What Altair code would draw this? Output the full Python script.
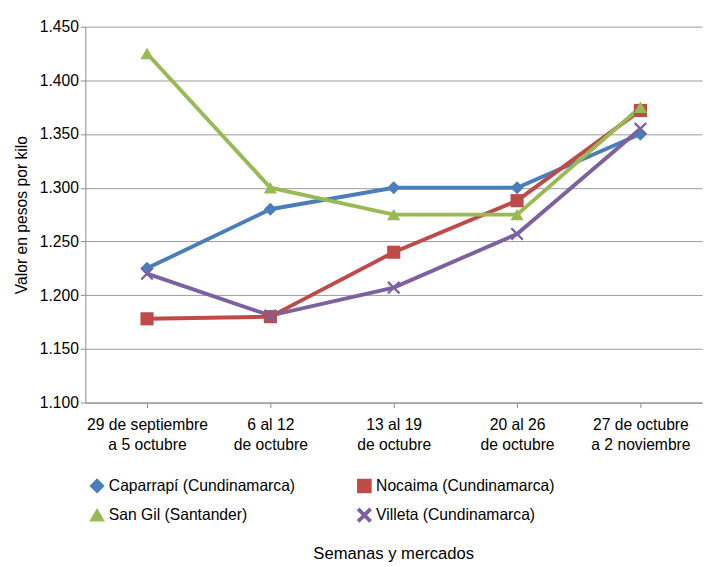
import altair as alt
import pandas as pd

weeks = ["29 de septiembre|a 5 octubre", "6 al 12|de octubre", "13 al 19|de octubre", "20 al 26|de octubre", "27 de octubre|a 2 noviembre"]
series = ["Caparrapí (Cundinamarca)", "Nocaima (Cundinamarca)", "San Gil (Santander)", "Villeta (Cundinamarca)"]
caparrapi = [1.225, 1.280, 1.300, 1.300, 1.350]
nocaima = [1.178, 1.180, 1.240, 1.288, 1.372]
sangil = [1.425, 1.300, 1.275, 1.275, 1.375]
villeta = [1.220, 1.181, 1.207, 1.257, 1.355]
colors = ["#4a7ebb", "#be4b48", "#98b954", "#7d60a0"]
xpath = "M-1,-0.75L-0.75,-1L0,-0.25L0.75,-1L1,-0.75L0.25,0L1,0.75L0.75,1L0,0.25L-0.75,1L-1,0.75L-0.25,0Z"
shapes = ["diamond", "square", "triangle-up", xpath]

rows = []
for s, vals in zip(series, [caparrapi, nocaima, sangil, villeta]):
    for w, v in zip(weeks, vals):
        rows.append({"week": w, "serie": s, "v": v})
df = pd.DataFrame(rows)

base = alt.Chart(df).encode(
    x=alt.X("week:N", sort=weeks, title=None,
            axis=alt.Axis(labelExpr="split(datum.label, '|')", labelAngle=0, labelFontSize=16,
                          labelColor="#000", labelFont="Liberation Sans", domainColor="#888", tickColor="#888",
                          labelPadding=10, labelLineHeight=20)),
    y=alt.Y("v:Q", scale=alt.Scale(domain=[1.1, 1.45]), title="Valor en pesos por kilo",
            axis=alt.Axis(values=[1.1,1.15,1.2,1.25,1.3,1.35,1.4,1.45], format=".3f", labelFontSize=16,
                          titleFontSize=16, titleFontWeight="normal", labelColor="#000", titleColor="#000",
                          labelFont="Liberation Sans", titleFont="Liberation Sans", gridColor="#999", domainColor="#888",
                          tickColor="#888", titlePadding=10)),
    color=alt.Color("serie:N", sort=series, scale=alt.Scale(domain=series, range=colors),
                    legend=alt.Legend(title=None, orient="bottom", columns=2, labelFontSize=16,
                                      labelFont="Liberation Sans", labelColor="#000",
                                      columnPadding=60, rowPadding=10, labelLimit=300, symbolSize=180,
                                      padding=4, offset=22)),
    shape=alt.Shape("serie:N", sort=series, scale=alt.Scale(domain=series, range=shapes)),
)
lines = base.mark_line(strokeWidth=4)
pts = base.mark_point(filled=True, size=180, opacity=1)

chart = (lines + pts).properties(
    width=630, height=384,
    title=alt.TitleParams("Semanas y mercados", orient="bottom", fontSize=17, fontWeight="normal",
                          font="Liberation Sans", color="#000", offset=18)
).configure_view(stroke=None)

chart.save("out.html", embed_options={"renderer": "svg", "actions": False})
